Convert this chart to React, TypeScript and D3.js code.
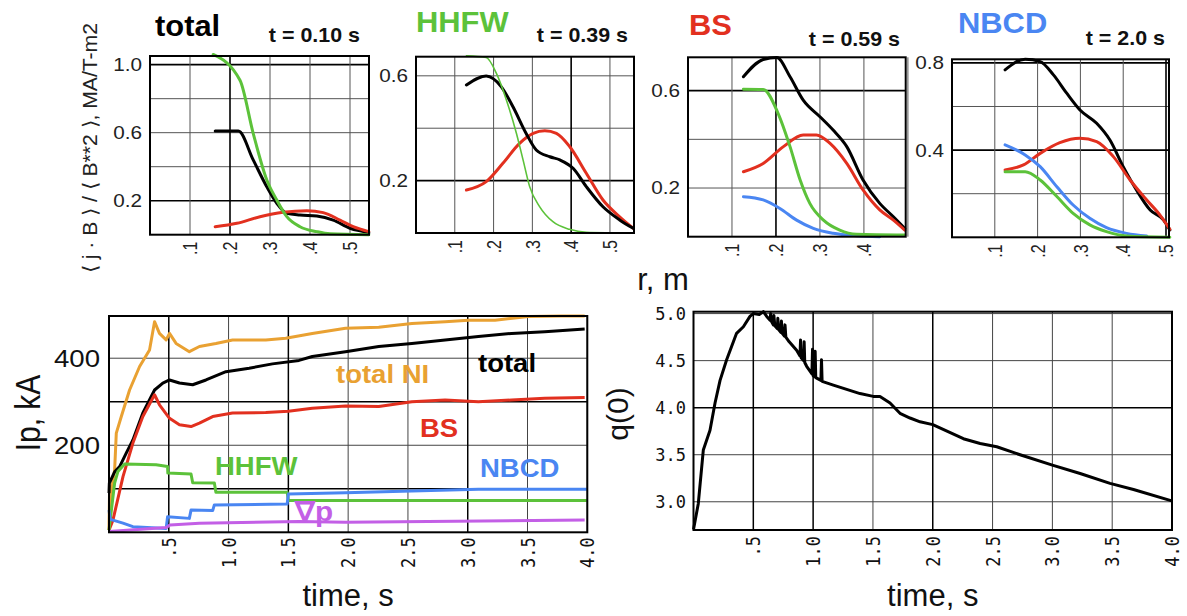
import React from "react";
import * as d3 from "d3";

// ---------- data: current density profiles <j.B>/<B^2> vs r (m) ----------
const rTicks = [0.1, 0.2, 0.3, 0.4, 0.5];
const rTickLabels = [".1", ".2", ".3", ".4", ".5"];

const j010_total = [[0.163,0.61],[0.221,0.61],[0.258,0.44],[0.292,0.282],[0.317,0.185],[0.342,0.126],[0.375,0.116],[0.417,0.11],[0.458,0.086],[0.5,0.038],[0.542,0.014],[0.547,0.01]];
const j010_bs = [[0.163,0.047],[0.217,0.067],[0.275,0.106],[0.333,0.132],[0.392,0.141],[0.433,0.13],[0.475,0.086],[0.508,0.047],[0.547,0.018]];
const j010_hhfw = [[0.158,1.06],[0.225,0.908],[0.258,0.596],[0.292,0.322],[0.317,0.204],[0.342,0.106],[0.375,0.047],[0.417,0.018],[0.45,0.005],[0.547,0.0]];

const j039_total = [[0.13,0.565],[0.181,0.599],[0.22,0.558],[0.25,0.482],[0.284,0.38],[0.31,0.317],[0.345,0.291],[0.371,0.279],[0.405,0.247],[0.439,0.177],[0.482,0.1],[0.525,0.05],[0.56,0.018]];
const j039_bs = [[0.13,0.164],[0.181,0.196],[0.224,0.266],[0.267,0.342],[0.302,0.38],[0.332,0.39],[0.362,0.38],[0.396,0.33],[0.439,0.228],[0.482,0.126],[0.525,0.062],[0.56,0.018]];
const j039_hhfw = [[0.13,0.676],[0.181,0.67],[0.207,0.61],[0.233,0.508],[0.259,0.38],[0.276,0.279],[0.293,0.177],[0.319,0.1],[0.353,0.043],[0.396,0.014],[0.439,0.003],[0.56,0]];

const j059_total = [[0.126,0.657],[0.171,0.728],[0.202,0.736],[0.232,0.657],[0.262,0.561],[0.3,0.493],[0.33,0.438],[0.361,0.37],[0.398,0.233],[0.436,0.137],[0.467,0.082],[0.493,0.034]];
const j059_bs = [[0.126,0.267],[0.171,0.301],[0.217,0.37],[0.262,0.418],[0.292,0.418],[0.323,0.383],[0.361,0.301],[0.398,0.192],[0.436,0.11],[0.467,0.068],[0.493,0.027]];
const j059_nbcd = [[0.126,0.164],[0.171,0.151],[0.209,0.116],[0.247,0.068],[0.285,0.034],[0.33,0.014],[0.383,0.004],[0.436,0.0]];
const j059_hhfw = [[0.126,0.606],[0.171,0.605],[0.205,0.506],[0.232,0.37],[0.255,0.233],[0.277,0.137],[0.308,0.068],[0.345,0.027],[0.383,0.01],[0.493,0.007]];

const j200_total = [[0.124,0.768],[0.171,0.817],[0.206,0.806],[0.237,0.745],[0.268,0.661],[0.299,0.584],[0.338,0.523],[0.369,0.446],[0.4,0.324],[0.431,0.217],[0.463,0.125],[0.494,0.08],[0.509,0.034]];
const j200_bs = [[0.124,0.309],[0.167,0.332],[0.206,0.385],[0.252,0.434],[0.299,0.454],[0.338,0.439],[0.377,0.37],[0.416,0.263],[0.455,0.171],[0.486,0.102],[0.509,0.037]];
const j200_nbcd = [[0.124,0.424],[0.171,0.378],[0.206,0.324],[0.245,0.232],[0.283,0.148],[0.322,0.087],[0.361,0.044],[0.408,0.018],[0.455,0.006]];
const j200_hhfw = [[0.124,0.301],[0.171,0.301],[0.206,0.263],[0.245,0.187],[0.283,0.11],[0.322,0.057],[0.361,0.026],[0.408,0.006],[0.509,0]];

// ---------- data: currents vs time ----------
const tTicks = [0.5, 1.0, 1.5, 2.0, 2.5, 3.0, 3.5, 4.0];
const tTickLabels = [".5", "1.0", "1.5", "2.0", "2.5", "3.0", "3.5", "4.0"];
const ipGrid = [100, 200, 300, 400];
const ipLabels = [200, 400];

const ipTotalNI = [[0,5],[0.005,105],[0.015,60],[0.03,113],[0.047,143],[0.061,228],[0.103,266],[0.172,327],[0.256,381],[0.339,419],[0.381,484],[0.422,457],[0.478,442],[0.506,457],[0.561,434],[0.672,415],[0.756,427],[0.894,434],[1.033,442],[1.311,442],[1.478,446],[1.7,457],[1.978,469],[2.256,471],[2.533,480],[2.811,484],[3.006,487],[3.228,487],[3.506,496],[3.783,497],[3.978,500]];
const ipTotal = [[0,90],[0.003,113],[0.047,139],[0.089,151],[0.144,182],[0.2,212],[0.283,274],[0.381,327],[0.45,343],[0.506,350],[0.589,343],[0.7,339],[0.811,350],[0.978,369],[1.172,377],[1.367,387],[1.589,395],[1.7,404],[1.978,415],[2.256,427],[2.533,434],[2.811,442],[3.089,450],[3.367,457],[3.644,461],[3.978,467]];
const ipBS = [[0,5],[0.033,28],[0.117,128],[0.2,205],[0.283,266],[0.381,316],[0.422,293],[0.506,262],[0.589,247],[0.686,243],[0.756,251],[0.867,266],[1.033,274],[1.311,275],[1.5,278],[1.7,285],[1.978,290],[2.256,289],[2.533,300],[2.811,304],[3.089,300],[3.367,304],[3.644,308],[3.978,310]];
const ipHHFW = [[0,5],[0.047,113],[0.075,140],[0.131,157],[0.394,155],[0.49,151],[0.492,136],[0.686,134],[0.7,114],[0.881,113],[0.894,92],[1.49,92],[1.5,73],[4.0,73]];
const ipNBCD = [[0,51],[0.01,30],[0.033,28],[0.117,21],[0.2,13],[0.478,9],[0.49,36],[0.672,32],[0.686,51],[0.867,50],[0.881,63],[1.49,65],[1.5,88],[1.978,91],[2.533,95],[3.089,99],[4.0,99]];
const ipGradP = [[0,2],[0.478,11],[0.51,17],[0.756,21],[1.589,25],[1.978,23],[3.978,28]];

// ---------- data: q(0) vs time ----------
const qTicks = [3.0, 3.5, 4.0, 4.5, 5.0];
const qTickLabels = ["3.0", "3.5", "4.0", "4.5", "5.0"];
const q0 = [[0,2.706],[0.04,2.98],[0.082,3.55],[0.138,3.76],[0.18,4.05],[0.222,4.29],[0.277,4.51],[0.36,4.79],[0.417,4.86],[0.472,4.97],[0.5,5.0],[0.55,4.99],[0.584,5.02],[0.612,4.97],[0.64,4.93],[0.645,5.0],[0.65,4.92],[0.667,4.88],[0.672,4.98],[0.68,4.87],[0.7,4.84],[0.705,4.95],[0.712,4.83],[0.73,4.8],[0.735,4.92],[0.742,4.79],[0.76,4.76],[0.765,4.88],[0.772,4.75],[0.8,4.7],[0.862,4.61],[0.89,4.55],[0.895,4.72],[0.9,4.53],[0.92,4.5],[0.925,4.7],[0.93,4.48],[0.946,4.44],[0.99,4.36],[0.995,4.62],[1.0,4.34],[1.012,4.33],[1.017,4.6],[1.022,4.32],[1.065,4.29],[1.07,4.51],[1.075,4.28],[1.169,4.24],[1.392,4.15],[1.503,4.12],[1.559,4.12],[1.643,4.05],[1.726,3.94],[1.81,3.89],[1.894,3.85],[2.0,3.82],[2.256,3.67],[2.396,3.62],[2.535,3.585],[2.73,3.5],[3.0,3.39],[3.232,3.3],[3.482,3.195],[3.678,3.13],[3.998,3.01]];

// ---------- styles ----------
const C = { black: "#000", green: "#5cc23a", red: "#e2301f", blue: "#4a86f2", orange: "#e9a132", purple: "#c35fe6" };
const SANS = "'Liberation Sans', Arial, Helvetica, sans-serif";
const MONO = "'DejaVu Sans Mono', monospace";

type Pt = number[];

function Txt(p: any) {
  const { x, y, size, weight = "normal", fill = "#111", anchor = "start", sx = 1, rot = 0, family = SANS, dy, textLength, children } = p;
  const tr = `translate(${x},${y}) scale(${sx},1)` + (rot ? ` rotate(${rot})` : "");
  const style: any = family === MONO ? { fontVariantNumeric: "slashed-zero", fontFeatureSettings: "'zero' 1" } : undefined;
  return (
    <text transform={tr} fontSize={size} fontWeight={weight} fill={fill} textAnchor={anchor} style={style}
      fontFamily={family} dy={dy} textLength={textLength} lengthAdjust={textLength ? "spacingAndGlyphs" : undefined}>
      {children}
    </text>
  );
}

const profilePanels = [
  { left: 150, right: 369, top: 56, bottom: 234.7, rMax: 0.5475, vMax: 1.051,
    hGrid: [0.2, 0.4, 0.6, 0.8, 1.0], hLabels: [0.2, 0.6, 1.0], heavyH: [0.2, 1.0], heavyV: [0.2], rLab: 5,
    title: "total", tColor: C.black, tx: 155, ty: 36, time: "t = 0.10 s", timeX: 360, timeY: 42,
    series: [[j010_total, C.black, 3], [j010_bs, C.red, 3], [j010_hhfw, C.green, 3]] },
  { left: 416, right: 634, top: 56.7, bottom: 233, rMax: 0.562, vMax: 0.673,
    hGrid: [0.2, 0.4, 0.6], hLabels: [0.2, 0.6], heavyH: [0.2], heavyV: [0.4], rLab: 5,
    title: "HHFW", tColor: C.green, tx: 416, ty: 32, time: "t = 0.39 s", timeX: 628, timeY: 42,
    series: [[j039_bs, C.red, 3], [j039_total, C.black, 3], [j039_hhfw, C.green, 1.6]] },
  { left: 688, right: 905.7, top: 57.3, bottom: 236.7, rMax: 0.495, vMax: 0.737,
    hGrid: [0.2, 0.4, 0.6], hLabels: [0.2, 0.6], heavyH: [0.6], heavyV: [0.2], rLab: 4,
    title: "BS", tColor: C.red, tx: 689, ty: 35, time: "t = 0.59 s", timeX: 900, timeY: 45.5,
    series: [[j059_total, C.black, 3], [j059_bs, C.red, 3], [j059_nbcd, C.blue, 3], [j059_hhfw, C.green, 3]] },
  { left: 952, right: 1169, top: 59.3, bottom: 237.3, rMax: 0.507, vMax: 0.8165,
    hGrid: [0.2, 0.4, 0.6, 0.8], hLabels: [0.4, 0.8], heavyH: [0.4, 0.8], heavyV: [0.5], rLab: 5,
    title: "NBCD", tColor: C.blue, tx: 958, ty: 33, time: "t = 2.0 s", timeX: 1165, timeY: 45,
    series: [[j200_total, C.black, 3], [j200_bs, C.red, 3], [j200_nbcd, C.blue, 3], [j200_hhfw, C.green, 3]] },
];

function ProfilePanel({ p }: any) {
  const x = d3.scaleLinear().domain([0, p.rMax]).range([p.left, p.right]);
  const y = d3.scaleLinear().domain([0, p.vMax]).range([p.bottom, p.top]);
  const line = d3.line<Pt>().x(d => x(d[0])).y(d => y(d[1])).curve(d3.curveMonotoneX);
  const vt = rTicks.filter(t => t < p.rMax + 0.01);
  return (
    <g>
      {p.hGrid.map((v: number) => (
        <line key={"h" + v} x1={p.left} x2={p.right} y1={y(v)} y2={y(v)}
          stroke={p.heavyH.includes(v) ? "#000" : "#555"} strokeWidth={p.heavyH.includes(v) ? 1.6 : 1} />
      ))}
      {vt.map(t => (
        <line key={"v" + t} x1={x(t)} x2={x(t)} y1={p.top} y2={p.bottom}
          stroke={p.heavyV.includes(t) ? "#000" : "#555"} strokeWidth={p.heavyV.includes(t) ? 1.6 : 1} />
      ))}
      {p.series.map((s: any, i: number) => (
        <path key={i} d={line(s[0]) || ""} fill="none" stroke={s[1]} strokeWidth={s[2]} strokeLinejoin="round" strokeLinecap="round" />
      ))}
      <rect x={p.left} y={p.top} width={p.right - p.left} height={p.bottom - p.top} fill="none" stroke="#000" strokeWidth={2} />
      {p.hLabels.map((v: number) => (
        <Txt key={"hl" + v} x={p.left - 8} y={y(v)} dy="0.36em" size={18} anchor="end" sx={1.15} fill="#222">{v.toFixed(1)}</Txt>
      ))}
      {rTicks.slice(0, p.rLab).map((t, i) => (
        <Txt key={"vl" + t} x={x(t)} y={p.bottom + 7} dy="0.36em" size={16} anchor="end" rot={-90} sx={1.25} fill="#222">{rTickLabels[i]}</Txt>
      ))}
      <Txt x={p.tx} y={p.ty} size={30} weight="bold" fill={p.tColor} sx={1.03}>{p.title}</Txt>
      <Txt x={p.timeX} y={p.timeY} size={19.5} weight="bold" anchor="end" sx={1.1} fill="#111">{p.time}</Txt>
    </g>
  );
}

function IpPanel() {
  const L = 109, R = 587.3, T = 316, B = 532.3;
  const x = d3.scaleLinear().domain([0, 4]).range([L, R]);
  const y = d3.scaleLinear().domain([0, 497]).range([B, T]);
  const line = d3.line<Pt>().x(d => x(d[0])).y(d => y(Math.min(d[1], 497)));
  const heavyV = [0.5, 1.5, 3.0];
  const heavyH = [300, 100];
  const series: [Pt[], string][] = [[ipTotalNI, C.orange], [ipTotal, C.black], [ipBS, C.red], [ipHHFW, C.green], [ipNBCD, C.blue], [ipGradP, C.purple]];
  return (
    <g>
      {ipGrid.map(v => (
        <line key={"h" + v} x1={L} x2={R} y1={y(v)} y2={y(v)} stroke={heavyH.includes(v) ? "#000" : "#444"} strokeWidth={heavyH.includes(v) ? 1.5 : 1} />
      ))}
      {tTicks.map(t => (
        <line key={"v" + t} x1={x(t)} x2={x(t)} y1={T} y2={B} stroke={heavyV.includes(t) ? "#000" : "#444"} strokeWidth={heavyV.includes(t) ? 1.5 : 1} />
      ))}
      {series.map((s, i) => (
        <path key={i} d={line(s[0]) || ""} fill="none" stroke={s[1]} strokeWidth={3} strokeLinejoin="round" />
      ))}
      <rect x={L} y={T} width={R - L} height={B - T} fill="none" stroke="#000" strokeWidth={2} />
      {ipLabels.map(v => (
        <Txt key={"yl" + v} x={100} y={y(v)} dy="0.36em" size={23} anchor="end" sx={1.2} fill="#111">{v}</Txt>
      ))}
      {tTicks.map((t, i) => (
        <Txt key={"xl" + t} x={x(t)} y={B + 5} dy="0.36em" size={17} anchor="end" rot={-90} sx={1.15} family={MONO} fill="#111">{tTickLabels[i]}</Txt>
      ))}
      <Txt x={336} y={383} size={25} weight="bold" fill={C.orange} sx={1.1}>total NI</Txt>
      <Txt x={478} y={372} size={25} weight="bold" fill="#000" sx={1.1}>total</Txt>
      <Txt x={420} y={437} size={25} weight="bold" fill={C.red} sx={1.1}>BS</Txt>
      <Txt x={215} y={475} size={25} weight="bold" fill={C.green} sx={1.1}>HHFW</Txt>
      <Txt x={480} y={477} size={25} weight="bold" fill={C.blue} sx={1.1}>NBCD</Txt>
      <Txt x={295} y={521} size={27} weight="bold" fill={C.purple} sx={1.1}>∇p</Txt>
      <Txt x={40} y={413} size={30} anchor="middle" rot={-90} sx={1.15} fill="#111">Ip, kA</Txt>
      <Txt x={(L + R) / 2} y={606} size={31} anchor="middle" fill="#111">time, s</Txt>
    </g>
  );
}

function QPanel() {
  const L = 693.5, R = 1172, T = 311.7, B = 530;
  const x = d3.scaleLinear().domain([0, 4]).range([L, R]);
  const y = d3.scaleLinear().domain([2.7, 5.02]).range([B, T]);
  const line = d3.line<Pt>().x(d => x(d[0])).y(d => y(d[1]));
  const heavyV = [0.5, 1.0, 2.0];
  const heavyH = [4.0];
  return (
    <g>
      {qTicks.map(v => (
        <line key={"h" + v} x1={L} x2={R} y1={y(v)} y2={y(v)} stroke={heavyH.includes(v) ? "#000" : "#444"} strokeWidth={heavyH.includes(v) ? 1.5 : 1} />
      ))}
      {tTicks.map(t => (
        <line key={"v" + t} x1={x(t)} x2={x(t)} y1={T} y2={B} stroke={heavyV.includes(t) ? "#000" : "#444"} strokeWidth={heavyV.includes(t) ? 1.5 : 1} />
      ))}
      <path d={line(q0) || ""} fill="none" stroke="#000" strokeWidth={3} strokeLinejoin="round" />
      <rect x={L} y={T} width={R - L} height={B - T} fill="none" stroke="#000" strokeWidth={2} />
      {qTicks.map((v, i) => (
        <Txt key={"yl" + v} x={686} y={y(v)} dy="0.36em" size={17} anchor="end" family={MONO} fill="#111">{qTickLabels[i]}</Txt>
      ))}
      {tTicks.map((t, i) => (
        <Txt key={"xl" + t} x={x(t)} y={B + 6} dy="0.36em" size={17} anchor="end" rot={-90} sx={1.15} family={MONO} fill="#111">{tTickLabels[i]}</Txt>
      ))}
      <Txt x={628} y={414} size={30} anchor="middle" rot={-90} fill="#111">q(0)</Txt>
      <Txt x={(L + R) / 2} y={606} size={31} anchor="middle" fill="#111">time, s</Txt>
    </g>
  );
}

export default function App() {
  return (
    <svg width={1187} height={616} style={{ position: "absolute", left: 0, top: 0, background: "#fff" }}>
      <rect x={0} y={0} width={1187} height={616} fill="#fff" />
      {profilePanels.map((p, i) => <ProfilePanel key={i} p={p} />)}
      <Txt x={97} y={148} size={18} anchor="middle" rot={-90} sx={1.1} fill="#222" textLength={250}>⟨ j · B ⟩ / ⟨ B**2 ⟩, MA/T-m2</Txt>
      <Txt x={663} y={290} size={31} anchor="middle" fill="#111">r, m</Txt>
      <IpPanel />
      <QPanel />
    </svg>
  );
}
